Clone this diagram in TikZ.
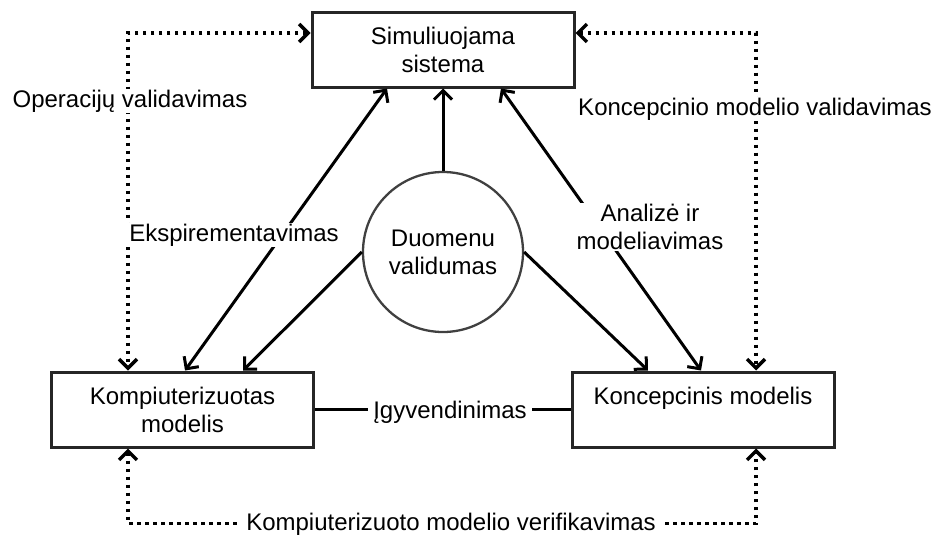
\documentclass[tikz,border=0pt]{standalone}
\usepackage{fontspec}
\setmainfont{Liberation Sans}
\usetikzlibrary{arrows.meta}

\begin{document}
\begin{tikzpicture}[x=1pt,y=-1pt,
  every node/.style={font=\fontsize{24}{28}\selectfont, text=black},
  box/.style={draw=black!85, line width=3pt, minimum width=262pt,
    minimum height=75pt, align=center, inner sep=0pt},
  hub/.style={circle, draw=black!75, line width=2.3pt, minimum size=160pt,
    align=center, inner sep=0pt},
  tip/.tip={Straight Barb[length=9pt,width=18pt]},
  flow/.style={line width=3pt, -tip},
  twoway/.style={line width=3pt, tip-tip},
  check/.style={line width=3.5pt, dash pattern=on 3.5pt off 4.5pt, tip-tip},
  tag/.style={fill=white, inner xsep=5pt, inner ysep=1pt, align=center}
]
\useasboundingbox (0,0) rectangle (938,536);

% main blocks
\node[box] (sys) at (443,49.5) {Simuliuojama\\sistema};
\node[box] (comp) at (182.5,409.5) {Kompiuterizuotas\\modelis};
\node[box] (conc) at (703,409.5) {Koncepcinis modelis\\\mbox{}};
\node[hub] (data) at (443,252) {Duomenu\\validumas};

% solid connectors
\draw[flow] (data.north) -- (sys.south);
\draw[flow] (data.west) -- ([xshift=60.5pt]comp.north);
\draw[flow] (data.east) -- ([xshift=-55pt]conc.north);
\draw[twoway] ([xshift=2.5pt]comp.north) -- ([xshift=-56pt]sys.south);
\draw[twoway] ([xshift=-2pt]conc.north) -- ([xshift=58pt]sys.south);
\draw[line width=3pt] (comp.east) -- (conc.west);

% dotted validation / verification loops
\draw[check] ([yshift=16.5pt]sys.west) -| ([xshift=-54.5pt]comp.north);
\draw[check] ([yshift=16.5pt]sys.east) -| ([xshift=53pt]conc.north);
\draw[check] ([xshift=-54.5pt]comp.south) -- ++(0,75)
  -| ([xshift=53pt]conc.south);

% connector labels
\node[tag, anchor=base] (lop) at (130,107) {Operacijų validavimas};
\node[tag, anchor=base] (lkon) at (755,115) {Koncepcinio modelio validavimas};
\node[tag, anchor=base] (leks) at (234,241) {Ekspirementavimas};
\node[tag] (lan) at (650,227) {Analizė ir\\modeliavimas};
\node[tag, anchor=base] (lig) at (450,418) {Įgyvendinimas};
\node[tag, anchor=base] (lver) at (451,530.5) {Kompiuterizuoto modelio verifikavimas};
\end{tikzpicture}
\end{document}
